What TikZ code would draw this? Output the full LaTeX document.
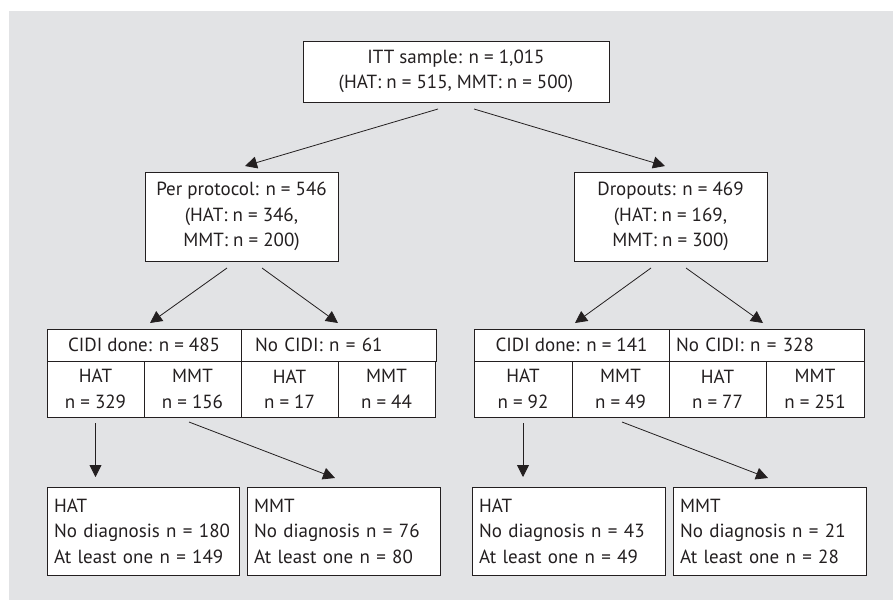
\documentclass[tikz,border=0pt]{standalone}
\usepackage{fontspec}
\setmainfont{PT Sans}
\usepackage{xcolor}
\usetikzlibrary{positioning,arrows.meta}
\definecolor{bggray}{RGB}{226,227,229}
\definecolor{ink}{RGB}{35,31,32}

\begin{document}
\begin{tikzpicture}[x=1pt, y=-1pt, >={Triangle[length=12pt,width=12pt]}, font=\fontsize{19}{25.5}\selectfont, color=ink]
    \tikzstyle{block} = [draw, fill=white, rectangle, line width=0.9pt, align=center, inner sep=0pt, outer sep=0pt]
    \tikzstyle{toprow} = [block, minimum height=32pt, minimum width=195pt]
    \tikzstyle{cell} = [block, minimum height=56pt, minimum width=97pt]
    \tikzstyle{result} = [block, minimum height=88pt, align=left, inner xsep=7pt, text width=179pt]
    \tikzstyle{arrow} = [->, line width=0.8pt]

    \useasboundingbox (0,0) rectangle (893,600);
    \fill[bggray] (9,11) rectangle (893,600);

    \node[block, minimum width=306pt, minimum height=61pt] (itt) at (456,71.5) {ITT sample: n = 1,015\\(HAT: n = 515, MMT: n = 500)};
    \node[block, minimum width=193pt, minimum height=89pt] (pp) at (241.5,216.5) {Per protocol: n = 546\\(HAT: n = 346,\\MMT: n = 200)};
    \node[block, minimum width=193pt, minimum height=89pt] (drop) at (670.5,216.5) {Dropouts: n = 469\\(HAT: n = 169,\\MMT: n = 300)};

    % per protocol table
    \node[cell] (pphat) at (95.5,389) {HAT\\n = 329};
    \node[cell, right=0pt of pphat] (ppmmt) {MMT\\n = 156};
    \node[cell, right=0pt of ppmmt] (ppnohat) {HAT\\n = 17};
    \node[cell, right=0pt of ppnohat] (ppnommt) {MMT\\n = 44};
    \node[toprow, minimum width=194pt, anchor=south west] (ppdone) at (pphat.north west) {CIDI done: n = 485};
    \node[toprow, right=0pt of ppdone, align=left, inner xsep=14pt, text width=167pt] (ppno) {No CIDI: n = 61};

    % dropout table
    \node[cell, minimum width=98pt] (drophat) at (523,389) {HAT\\n = 92};
    \node[cell, right=0pt of drophat] (dropmmt) {MMT\\n = 49};
    \node[cell, right=0pt of dropmmt] (dropnohat) {HAT\\n = 77};
    \node[cell, minimum width=98pt, right=0pt of dropnohat] (dropnommt) {MMT\\n = 251};
    \node[toprow, anchor=south west] (dropdone) at (drophat.north west) {CIDI done: n = 141};
    \node[toprow, right=0pt of dropdone, align=left, inner xsep=7pt, text width=181pt] (dropno) {No CIDI: n = 328};

    % diagnoses
    \node[result, text width=178pt] (pphatdx) at (143,531) {HAT\\No diagnosis n = 180\\At least one n = 149};
    \node[result] (ppmmtdx) at (343.5,531) {MMT\\No diagnosis n = 76\\At least one n = 80};
    \node[result] (drophatdx) at (568.5,531) {HAT\\No diagnosis n = 43\\At least one n = 49};
    \node[result] (dropmmtdx) at (769.5,531) {MMT\\No diagnosis n = 21\\At least one n = 28};

    \draw[arrow] ([xshift=-18pt,yshift=-7pt]itt.south) -- ([xshift=3.5pt,yshift=6pt]pp.north);
    \draw[arrow] ([xshift=18pt,yshift=-7pt]itt.south) -- ([xshift=-5.5pt,yshift=6pt]drop.north);
    \draw[arrow] ([xshift=-14.5pt,yshift=-7pt]pp.south) -- ([xshift=6pt,yshift=6pt]ppdone.north);
    \draw[arrow] ([xshift=20.5pt,yshift=-7pt]pp.south) -- ([xshift=-0.5pt,yshift=6pt]ppno.north);
    \draw[arrow] ([xshift=-19.5pt,yshift=-7pt]drop.south) -- ([xshift=3.5pt,yshift=6pt]dropdone.north);
    \draw[arrow] ([xshift=15.5pt,yshift=-7pt]drop.south) -- ([xshift=-3.5pt,yshift=6pt]dropno.north);
    \draw[arrow] ([yshift=-6pt]pphat.south) -- ([yshift=10pt]pphat.south |- pphatdx.north);
    \draw[arrow] ([xshift=-3.5pt,yshift=-5pt]ppmmt.south) -- ([xshift=-8.5pt,yshift=9pt]ppmmtdx.north);
    \draw[arrow] ([yshift=-6pt]drophat.south) -- ([yshift=10pt]drophat.south |- drophatdx.north);
    \draw[arrow] ([xshift=1.5pt,yshift=-5pt]dropmmt.south) -- ([xshift=-1.5pt,yshift=9pt]dropmmtdx.north);
\end{tikzpicture}
\end{document}
